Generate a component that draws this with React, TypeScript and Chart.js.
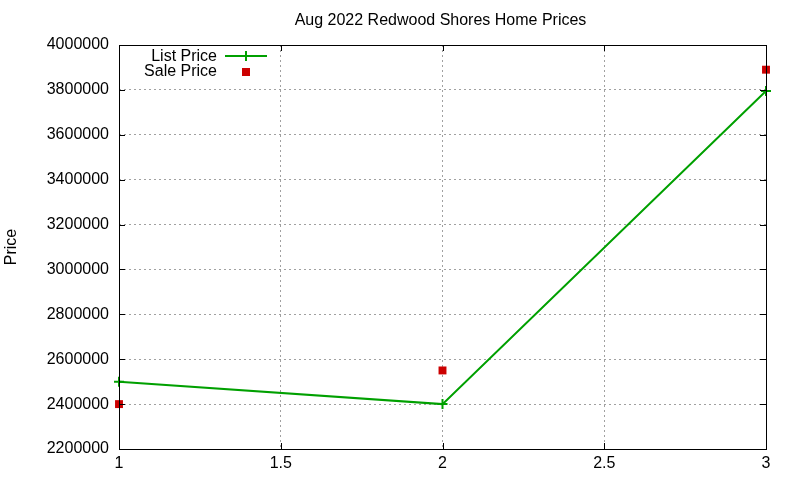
import { useEffect, useRef } from 'react';
import { Chart, registerables } from 'chart.js';

Chart.register(...registerables);

const chartTitle = 'Aug 2022 Redwood Shores Home Prices';
const yTitle = 'Price';
const xValues = [1, 2, 3];
const listPrice = [2500000, 2400000, 3795000];
const salePrice = [2400000, 2550000, 3890000];
const seriesNames = ['List Price', 'Sale Price'];

const GREEN = '#00a000';
const RED = '#cc0000';
const FONT = "'Liberation Sans', Arial, sans-serif";

// gnuplot style frame: full border, inward ticks, title over plot, key inside top-left
const framePlugin = {
  id: 'frame',
  afterDraw(chart: any) {
    const { ctx, chartArea: a, scales } = chart;
    ctx.save();
    ctx.strokeStyle = '#000';
    ctx.lineWidth = 1;
    ctx.strokeRect(a.left + 0.5, a.top + 0.5, a.right - a.left, a.bottom - a.top);
    ctx.beginPath();
    scales.y.ticks.forEach((t: any) => {
      const y = Math.round(scales.y.getPixelForValue(t.value)) + 0.5;
      ctx.moveTo(a.left, y);
      ctx.lineTo(a.left + 6, y);
      ctx.moveTo(a.right, y);
      ctx.lineTo(a.right - 6, y);
    });
    scales.x.ticks.forEach((t: any) => {
      const x = Math.round(scales.x.getPixelForValue(t.value)) + 0.5;
      ctx.moveTo(x, a.bottom);
      ctx.lineTo(x, a.bottom - 6);
      ctx.moveTo(x, a.top);
      ctx.lineTo(x, a.top + 6);
    });
    ctx.stroke();

    ctx.font = `16px ${FONT}`;
    ctx.fillStyle = '#000';
    ctx.textBaseline = 'middle';
    ctx.textAlign = 'center';
    ctx.fillText(chartTitle, (a.left + a.right) / 2 - 2, a.top - 24);

    // key
    const textX = a.left + 98;
    const sampleX = a.left + 127;
    const y1 = a.top + 11;
    const y2 = a.top + 26;
    ctx.textAlign = 'right';
    ctx.fillText(seriesNames[0], textX, y1 + 1);
    ctx.fillText(seriesNames[1], textX, y2 + 1);
    ctx.strokeStyle = GREEN;
    ctx.lineWidth = 2;
    ctx.beginPath();
    ctx.moveTo(sampleX - 21, y1);
    ctx.lineTo(sampleX + 21, y1);
    ctx.moveTo(sampleX, y1 - 5);
    ctx.lineTo(sampleX, y1 + 5);
    ctx.stroke();
    ctx.fillStyle = RED;
    ctx.fillRect(sampleX - 4, y2 - 3, 8, 8);
    ctx.restore();
  },
};

export default function App() {
  const canvasRef = useRef<HTMLCanvasElement | null>(null);

  useEffect(() => {
    if (!canvasRef.current) return;
    const ctx = canvasRef.current.getContext('2d');
    if (!ctx) return;

    const chart = new Chart(ctx, {
      type: 'line',
      data: {
        datasets: [
          {
            label: seriesNames[0],
            data: xValues.map((x, i) => ({ x, y: listPrice[i] })),
            borderColor: GREEN,
            backgroundColor: GREEN,
            borderWidth: 2,
            pointStyle: 'cross',
            pointRadius: 5,
            pointBorderWidth: 2,
            tension: 0,
            clip: false as any,
          },
          {
            label: seriesNames[1],
            data: xValues.map((x, i) => ({ x, y: salePrice[i] })),
            showLine: false,
            backgroundColor: RED,
            borderColor: RED,
            borderWidth: 0,
            pointStyle: 'rect',
            pointRadius: 5.6,
            clip: false as any,
          },
        ],
      },
      options: {
        animation: false,
        responsive: true,
        maintainAspectRatio: false,
        layout: { padding: { left: 0, right: 34, top: 45, bottom: 0 } },
        plugins: {
          legend: { display: false },
          tooltip: { enabled: false },
          title: { display: false },
        },
        scales: {
          x: {
            type: 'linear',
            min: 1,
            max: 3,
            ticks: {
              stepSize: 0.5,
              color: '#000',
              padding: 5,
              font: { family: FONT, size: 16 },
              callback: (v: any) => String(v),
            },
            grid: { color: '#a0a0a0', drawTicks: false, tickLength: 0 },
            border: { display: false, dash: [2, 3] },
            afterFit: (scale: any) => {
              scale.height = 31;
            },
          },
          y: {
            type: 'linear',
            min: 2200000,
            max: 4000000,
            ticks: {
              stepSize: 200000,
              color: '#000',
              padding: 10,
              font: { family: FONT, size: 16 },
              callback: (v: any) => String(v),
            },
            grid: { color: '#a0a0a0', drawTicks: false, tickLength: 0 },
            border: { display: false, dash: [2, 3] },
            title: {
              display: true,
              text: yTitle,
              color: '#000',
              font: { family: FONT, size: 16 },
              padding: { top: 2, bottom: 0 },
            },
            afterFit: (scale: any) => {
              scale.width = 119;
            },
          },
        },
      },
      plugins: [framePlugin],
    });

    return () => {
      chart.destroy();
    };
  }, []);

  return (
    <div style={{ position: 'fixed', left: 0, top: 0, width: 800, height: 480, background: '#fff' }}>
      <canvas ref={canvasRef}></canvas>
    </div>
  );
}
